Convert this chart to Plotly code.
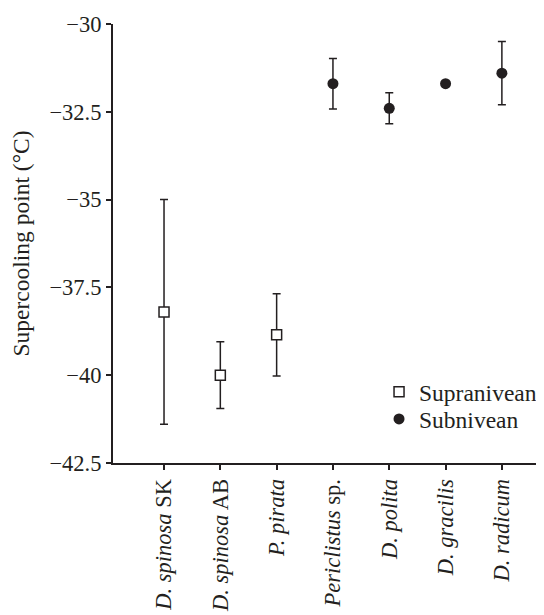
import plotly.graph_objects as go

categories = ["<i>D. spinosa</i> SK", "<i>D. spinosa</i> AB", "<i>P. pirata</i>",
              "<i>Periclistus</i> sp.", "<i>D. polita</i>", "<i>D. gracilis</i>", "<i>D. radicum</i>"]

supra_x = [0, 1, 2]
supra_mean = [-38.2, -40.0, -38.85]
supra_err = [3.2, 0.95, 1.17]

sub_x = [3, 4, 5, 6]
sub_mean = [-31.7, -32.4, -31.7, -31.4]
sub_err = [0.72, 0.44, 0.0, 0.9]

y_ticks = [-30, -32.5, -35, -37.5, -40, -42.5]

FONT = "Liberation Serif"
INK = "#231f20"

fig = go.Figure()
fig.add_trace(go.Scatter(
    x=supra_x, y=supra_mean, mode="markers", name="Supranivean", legend="legend",
    marker=dict(symbol="square", size=10, color="white", line=dict(color=INK, width=1.5)),
    error_y=dict(type="data", array=supra_err, visible=True, color=INK, thickness=1.5, width=4),
))
fig.add_trace(go.Scatter(
    x=sub_x, y=sub_mean, mode="markers", name="Subnivean", legend="legend2",
    marker=dict(symbol="circle", size=11, color=INK, line=dict(width=0)),
    error_y=dict(type="data", array=sub_err, visible=True, color=INK, thickness=1.5, width=4),
))

leg_common = dict(xanchor="left", yanchor="middle", bgcolor="rgba(0,0,0,0)",
                  font=dict(family=FONT, size=23.5, color=INK))

fig.update_layout(
    width=544, height=615,
    margin=dict(l=105, r=0, t=16, b=160),
    paper_bgcolor="white", plot_bgcolor="white",
    font=dict(family=FONT, size=22, color=INK),
    showlegend=True,
    legend=dict(x=0.606, y=0.162, **leg_common),
    legend2=dict(x=0.606, y=0.100, **leg_common),
    xaxis=dict(
        range=[-0.906, 6.89], tickmode="array", tickvals=list(range(len(categories))),
        ticktext=categories, tickangle=-90, showgrid=False, zeroline=False,
        showline=True, linecolor=INK, linewidth=2, automargin=False,
        ticks="outside", ticklen=5, tickwidth=1.5, tickcolor=INK,
        tickfont=dict(family=FONT, size=22.5),
    ),
    yaxis=dict(
        range=[-42.5, -30], tickmode="array", tickvals=y_ticks,
        showgrid=False, zeroline=False, automargin=False,
        showline=True, linecolor=INK, linewidth=2,
        ticks="outside", ticklen=5, tickwidth=1.5, tickcolor=INK,
        tickfont=dict(family=FONT, size=22.5),
        title=dict(text="Supercooling point (°C)", font=dict(family=FONT, size=23.5), standoff=16),
    ),
)

fig.write_html("out.html")
